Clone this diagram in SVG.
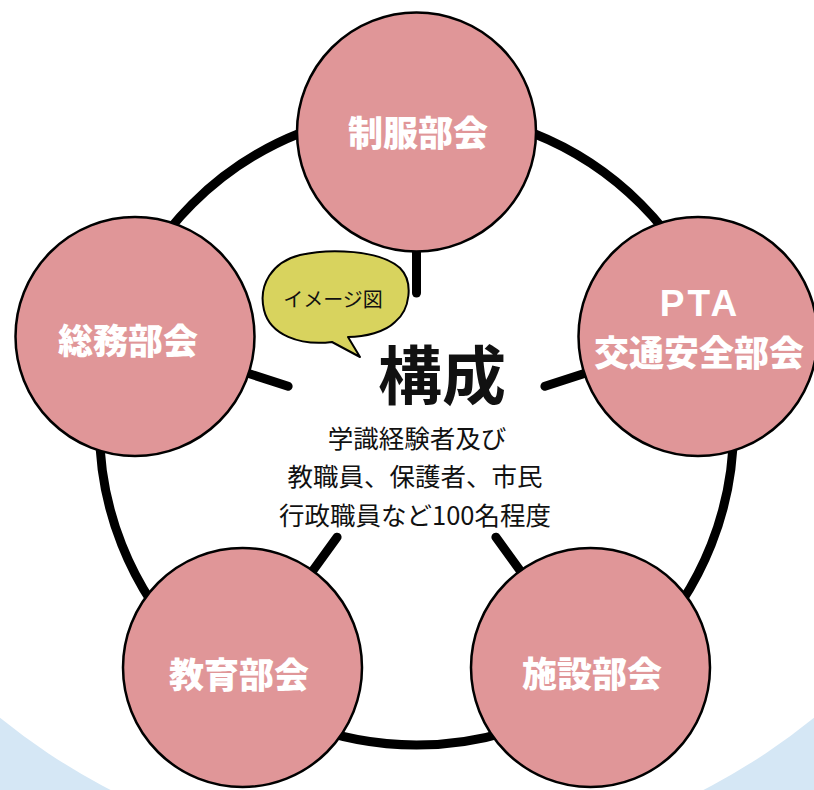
<svg xmlns="http://www.w3.org/2000/svg" width="814" height="790" viewBox="0 0 814 790">
  <style>
    .node { fill: #e09698; stroke: #000; stroke-width: 2.5; }
    .label { fill: #fff; font-family: "Noto Sans CJK JP", "Noto Sans", sans-serif; font-weight: 900; font-size: 35px; text-anchor: middle; dominant-baseline: central; }
    .conn { stroke: #000; stroke-width: 9; fill: none; stroke-linecap: round; }
    .center { fill: #111; font-family: "Noto Sans CJK JP", "Noto Sans", sans-serif; text-anchor: middle; dominant-baseline: central; }
  </style>
  <rect x="0" y="0" width="814" height="790" fill="#d5e7f5"/>
  <circle cx="407" cy="216" r="646" fill="#fff"/>

  <g id="connectors">
    <circle class="conn" cx="416.5" cy="428" r="317"/>
    <line class="conn" x1="416.5" y1="293" x2="416.5" y2="228"/>
    <line class="conn" x1="544.9" y1="386.3" x2="606.7" y2="366.2"/>
    <line class="conn" x1="495.9" y1="537.2" x2="534.1" y2="589.8"/>
    <line class="conn" x1="337.1" y1="537.2" x2="298.9" y2="589.8"/>
    <line class="conn" x1="288.1" y1="386.3" x2="226.3" y2="366.2"/>
  </g>

  <g id="node-seifuku">
    <circle class="node" cx="416.5" cy="132" r="119.5"/>
    <text class="label" x="418" y="130">制服部会</text>
  </g>
  <g id="node-pta">
    <circle class="node" cx="698" cy="336.5" r="119.5"/>
    <text class="label" x="700" y="303" style="font-family:'Liberation Sans', Arial, sans-serif;font-weight:700;font-size:37px" letter-spacing="3">PTA</text>
    <text class="label" x="699" y="350">交通安全部会</text>
  </g>
  <g id="node-shisetsu">
    <circle class="node" cx="590.5" cy="667.5" r="119.5"/>
    <text class="label" x="592" y="671">施設部会</text>
  </g>
  <g id="node-kyouiku">
    <circle class="node" cx="242.5" cy="667.5" r="119.5"/>
    <text class="label" x="239" y="672">教育部会</text>
  </g>
  <g id="node-soumu">
    <circle class="node" cx="135" cy="336.5" r="119.5"/>
    <text class="label" x="128" y="338">総務部会</text>
  </g>

  <g id="bubble">
    <path d="M332,342 C300,346 270,335 264,310 C258,285 272,262 300,255 C330,248 380,250 400,268 C414,282 410,310 395,322 C385,332 365,337 348,337 L360,357 Z" fill="#d8d35e" stroke="#000" stroke-width="2" stroke-linejoin="round"/>
    <text class="center" x="333" y="298" style="font-size:20px">イメージ図</text>
  </g>

  <g id="center">
    <text class="center" x="442" y="371" style="font-size:64px;font-weight:700">構成</text>
    <text class="center" x="417" y="436" style="font-size:25.5px">学識経験者及び</text>
    <text class="center" x="415" y="474" style="font-size:25.5px">教職員、保護者、市民</text>
    <text class="center" x="415" y="513" style="font-size:25.5px">行政職員など100名程度</text>
  </g>
</svg>
